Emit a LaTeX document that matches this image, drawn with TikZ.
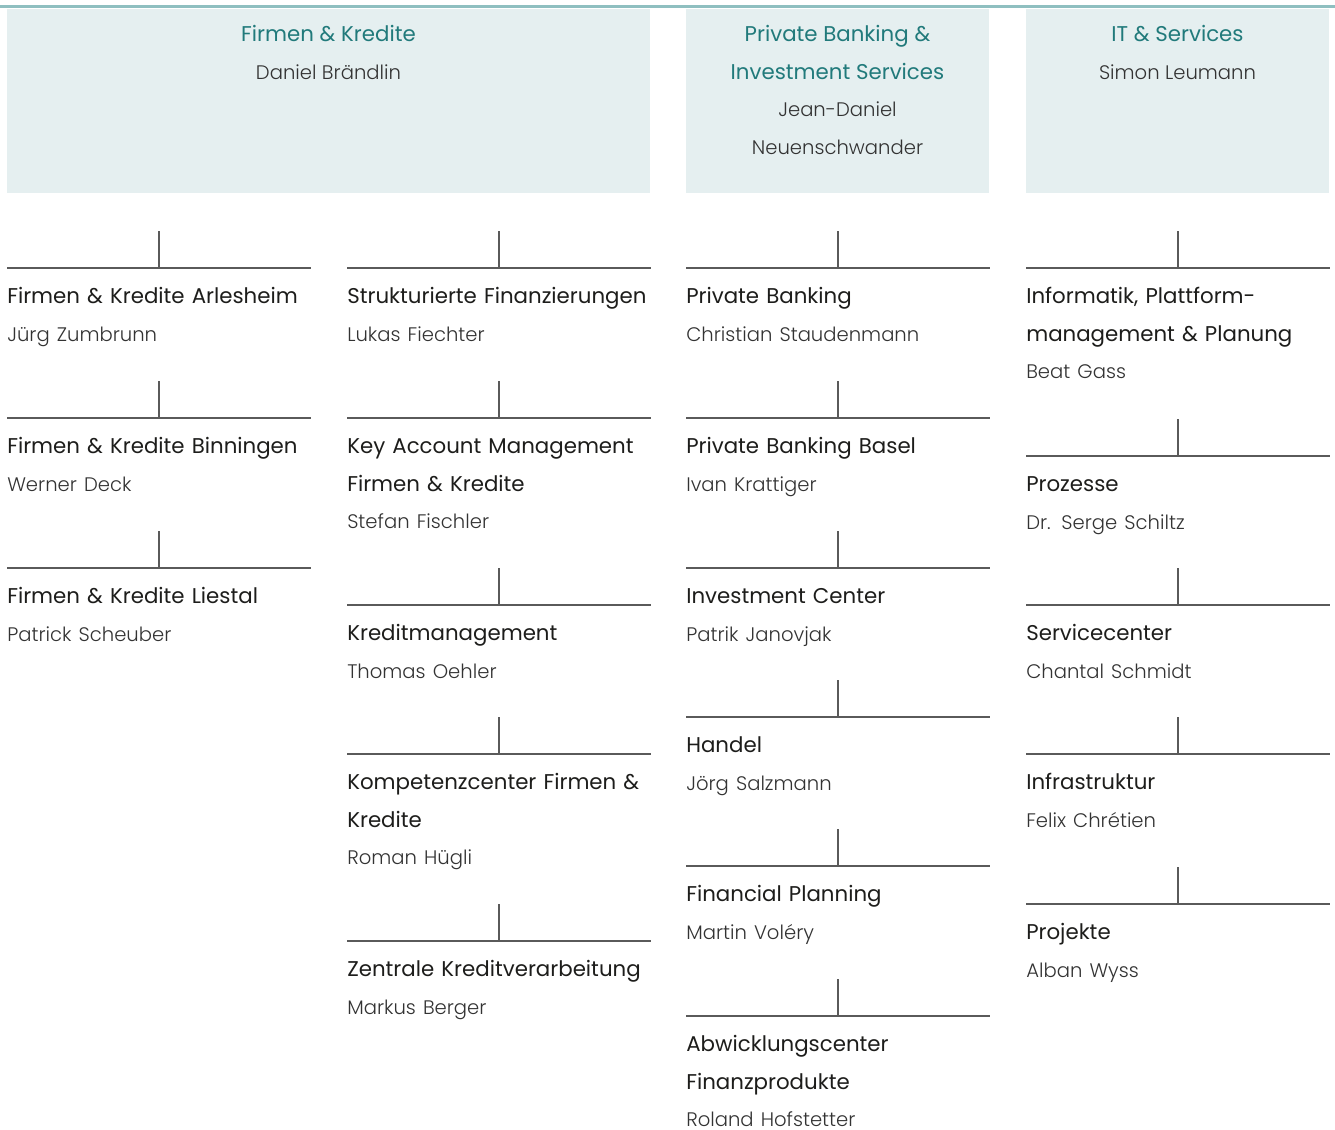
\documentclass[tikz,border=0pt]{standalone}
\usepackage{fontspec}
\setmainfont{Poppins}
\newfontfamily\lightfont{Poppins Light}
\definecolor{topline}{HTML}{8FBFC0}
\definecolor{boxfill}{HTML}{E5EFF0}
\definecolor{teal}{HTML}{217A7B}
\definecolor{titlec}{HTML}{1D1D1B}
\definecolor{namec}{HTML}{333333}
\definecolor{connc}{HTML}{5A5A5A}
\newcommand\itemfont{\fontsize{16}{28.125}\selectfont}
\newcommand\nm[1]{{\lightfont\fontsize{14.7}{28.125}\selectfont\color{namec}#1}}
\newcommand\orgitem[4]{%
  \node[orgbox] (#1) at (#2,#3) {\rule{0pt}{26.6pt}#4};
  \draw[conn] (#1.north west) -- (#1.north east);
  \draw[conn] (#1.north) -- ++(0,-37);}
\begin{document}
\begin{tikzpicture}[x=0.75pt,y=-0.75pt,
  hdbox/.style={fill=boxfill, draw=none, inner sep=0, minimum height=138pt},
  hdtext/.style={anchor=north, inner sep=0, align=center, font=\itemfont, text=titlec},
  orgbox/.style={anchor=north west, inner sep=0, text width=227.25pt, align=left, font=\itemfont, text=titlec},
  conn/.style={draw=connc, line width=1.5pt}]
\useasboundingbox (0,0) rectangle (1335,1130);
% header boxes
\node[hdbox, minimum width=482.25pt] (h1) at (328.5,101) {};
\node[hdbox, minimum width=227.25pt] (h2) at (837.5,101) {};
\node[hdbox, minimum width=227.25pt] (h3) at (1177.5,101) {};
\draw[draw=topline, line width=2.25pt] (0,7) -- (1335,7);
\node[hdtext] (h1t) at (h1.north) {\rule{0pt}{24.5pt}{\color{teal}Firmen \& Kredite}\\\nm{Daniel Brändlin}};
\node[hdtext] (h2t) at (h2.north) {\rule{0pt}{24.5pt}{\color{teal}Private Banking \&}\\{\color{teal}Investment Services}\\\nm{Jean-Daniel}\\\nm{Neuenschwander}};
\node[hdtext] (h3t) at (h3.north) {\rule{0pt}{24.5pt}{\color{teal}IT \& Services}\\\nm{Simon Leumann}};
% column 1
\orgitem{a1}{7}{268}{Firmen \& Kredite Arlesheim\\\nm{Jürg Zumbrunn}}
\orgitem{a2}{7}{418}{Firmen \& Kredite Binningen\\\nm{Werner Deck}}
\orgitem{a3}{7}{568}{Firmen \& Kredite Liestal\\\nm{Patrick Scheuber}}
% column 2
\orgitem{b1}{347}{268}{Strukturierte Finanzierungen\\\nm{Lukas Fiechter}}
\orgitem{b2}{347}{418}{Key Account Management\\Firmen \& Kredite\\\nm{Stefan Fischler}}
\orgitem{b3}{347}{605}{Kreditmanagement\\\nm{Thomas Oehler}}
\orgitem{b4}{347}{754}{Kompetenzcenter Firmen \&\\Kredite\\\nm{Roman Hügli}}
\orgitem{b5}{347}{941}{Zentrale Kreditverarbeitung\\\nm{Markus Berger}}
% column 3
\orgitem{c1}{686}{268}{Private Banking\\\nm{Christian Staudenmann}}
\orgitem{c2}{686}{418}{Private Banking Basel\\\nm{Ivan Krattiger}}
\orgitem{c3}{686}{568}{Investment Center\\\nm{Patrik Janovjak}}
\orgitem{c4}{686}{717}{Handel\\\nm{Jörg Salzmann}}
\orgitem{c5}{686}{866}{Financial Planning\\\nm{Martin Voléry}}
\orgitem{c6}{686}{1016}{Abwicklungscenter\\Finanzprodukte\\\nm{Roland Hofstetter}}
% column 4
\orgitem{d1}{1026}{268}{Informatik, Plattform-\\management \& Planung\\\nm{Beat Gass}}
\orgitem{d2}{1026}{456}{Prozesse\\\nm{Dr. Serge Schiltz}}
\orgitem{d3}{1026}{605}{Servicecenter\\\nm{Chantal Schmidt}}
\orgitem{d4}{1026}{754}{Infrastruktur\\\nm{Felix Chrétien}}
\orgitem{d5}{1026}{904}{Projekte\\\nm{Alban Wyss}}
\end{tikzpicture}
\end{document}
